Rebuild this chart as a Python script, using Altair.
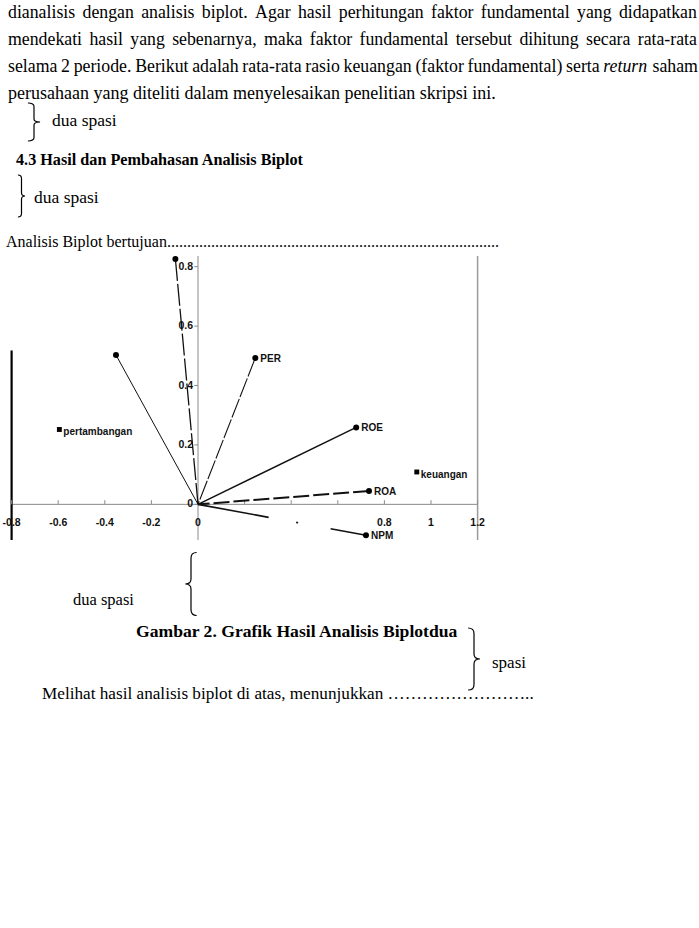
import altair as alt
import pandas as pd

# ---------------- data ----------------
var_labels = ["", "", "PER", "ROE", "ROA", "NPM"]
var_x = [-0.097, -0.352, 0.246, 0.679, 0.734, 0.721]
var_y = [0.826, 0.503, 0.493, 0.259, 0.045, -0.104]

obj_labels = ["pertambangan", "keuangan"]
obj_x = [-0.595, 0.939]
obj_y = [0.252, 0.109]

x_ticks = [-0.8, -0.6, -0.4, -0.2, 0, 0.2, 0.4, 0.6, 0.8, 1, 1.2]
x_tick_labels = ["-0.8", "-0.6", "-0.4", "-0.2", "0", "", "", "", "0.8", "1", "1.2"]
y_ticks = [0, 0.2, 0.4, 0.6, 0.8]
y_tick_labels = ["0", "0.2", "0.4", "0.6", "0.8"]

x_domain = [-0.8, 1.2]
y_domain = [-0.12, 0.836]
left_border_top = 0.518

body_lines = [
    "dianalisis dengan analisis biplot. Agar hasil perhitungan faktor fundamental yang didapatkan",
    "mendekati hasil yang sebenarnya, maka faktor fundamental tersebut dihitung secara rata-rata",
    "selama 2 periode. Berikut adalah rata-rata rasio keuangan (faktor fundamental) serta return saham",
]
last_body_line = "perusahaan yang diteliti dalam menyelesaikan penelitian skripsi ini."
italic_words = {"return"}
heading = "4.3  Hasil dan Pembahasan Analisis Biplot"
spacing_note = "dua spasi"
intro = "Analisis Biplot bertujuan"
caption = "Gambar 2. Grafik Hasil Analisis Biplotdua"
spacing_note2 = "spasi"
closing = "Melihat hasil analisis biplot di atas, menunjukkan "

# ---------------- styling ----------------
SERIF = "Liberation Serif"
SANS = "Liberation Sans"
FS = 17.8
LBL = 10
TICK_LBL = 10.5
INK = "#111111"

XS = alt.Scale(domain=x_domain, range=[11.6, 477.6], nice=False, zero=False)
YS = alt.Scale(domain=y_domain, range=[540, 256], nice=False, zero=False)

# Times-metric advance widths (per 1000 em) to lay out justified lines
W = {' ': 250, '.': 250, ',': 250, '-': 333, '(': 333, ')': 333,
     'a': 444, 'b': 500, 'c': 444, 'd': 500, 'e': 444, 'f': 333, 'g': 500, 'h': 500,
     'i': 278, 'j': 278, 'k': 500, 'l': 278, 'm': 778, 'n': 500, 'o': 500, 'p': 500,
     'q': 500, 'r': 333, 's': 389, 't': 278, 'u': 500, 'v': 500, 'w': 722, 'x': 500,
     'y': 500, 'z': 444, 'A': 722, 'B': 667, 'M': 889}
W_IT = dict(W, r=389, e=444, t=278, u=500, n=500)


def tw(s, size, italic=False):
    table = W_IT if italic else W
    return sum(table.get(c, 500) for c in s) / 1000.0 * size


one = pd.DataFrame({"k": [0]})
layers = []


def txt(s, x, y, size=FS, weight="normal", style="normal", font=SERIF, align="left"):
    layers.append(
        alt.Chart(one).mark_text(
            font=font, fontSize=size, fontWeight=weight, fontStyle=style,
            align=align, baseline="alphabetic", color="#000000"
        ).encode(x=alt.value(x), y=alt.value(y), text=alt.value(s))
    )


def brace(cx, cy, height, half_w, right=True, sw=1.2):
    """Thin curly brace drawn as a custom symbol path (unit box [-1, 1])."""
    s = 1 if right else -1
    a, t = -s * half_w, s * half_w
    path = (f"M{a},-1 Q0,-1 0,-0.82 L0,-0.16 Q0,0 {t},0 "
            f"Q0,0 0,0.16 L0,0.82 Q0,1 {a},1")
    layers.append(
        alt.Chart(one).mark_point(
            shape=path, filled=False, size=height * height, strokeWidth=sw,
            color="#000000", opacity=1
        ).encode(x=alt.value(cx), y=alt.value(cy))
    )


# justified paragraph lines
LEFT, RIGHT = 8, 697
baselines = [18, 45, 72]
for line, by in zip(body_lines, baselines):
    words = line.split(" ")
    total = sum(tw(w, FS, w in italic_words) for w in words)
    gap = (RIGHT - LEFT - total) / (len(words) - 1)
    xpos = LEFT
    for w in words:
        it = w in italic_words
        txt(w, xpos, by, style="italic" if it else "normal")
        xpos += tw(w, FS, it) + gap + (1.0 if it else 0.0)
txt(last_body_line, LEFT, 99, size=18)

# braces and notes
brace(34, 122, 38, 0.32, right=True)
txt(spacing_note, 52, 126, size=17.5)
txt(heading, 16, 165, size=16.2, weight="bold")
brace(21.5, 196, 42, 0.17, right=True)
txt(spacing_note, 34, 203, size=17.5)

intro_size = 16
n_dots = int(round((500 - 6 - tw(intro, intro_size)) / tw(".", intro_size)))
txt(intro + "." * n_dots, 6, 247, size=intro_size)

brace(191, 584, 63, 0.18, right=False)
txt(spacing_note, 73, 605, size=16.5)
txt(caption, 136, 637, size=17.6, weight="bold")
brace(474, 659, 62, 0.19, right=True)
txt(spacing_note2, 492, 668, size=17)
txt(closing + "\u2026" * 8 + "..", 42, 699, size=17.2)

# ---------------- biplot ----------------
var_df = pd.DataFrame({"label": var_labels, "x": var_x, "y": var_y})
obj_df = pd.DataFrame({"label": obj_labels, "x": obj_x, "y": obj_y})
xt_df = pd.DataFrame({"v": x_ticks, "lab": x_tick_labels})
yt_df = pd.DataFrame({"v": y_ticks, "lab": y_tick_labels})

# frame / axis lines
layers.append(alt.Chart(one).mark_rule(color="#8a8a8a", strokeWidth=1).encode(
    x=alt.X(datum=x_domain[0], scale=XS, axis=None), x2=alt.X2(datum=x_domain[1]),
    y=alt.Y(datum=0, scale=YS, axis=None)))
layers.append(alt.Chart(one).mark_rule(color="#8a8a8a", strokeWidth=1).encode(
    x=alt.X(datum=0, scale=XS, axis=None),
    y=alt.Y(datum=y_domain[0], scale=YS, axis=None), y2=alt.Y2(datum=y_domain[1])))
layers.append(alt.Chart(one).mark_rule(color="#9a9a9a", strokeWidth=1.5).encode(
    x=alt.X(datum=x_domain[1], scale=XS, axis=None),
    y=alt.Y(datum=y_domain[0], scale=YS, axis=None), y2=alt.Y2(datum=y_domain[1])))
layers.append(alt.Chart(one).mark_rule(color="#000000", strokeWidth=2.2).encode(
    x=alt.X(datum=x_domain[0], scale=XS, axis=None),
    y=alt.Y(datum=y_domain[0], scale=YS, axis=None), y2=alt.Y2(datum=left_border_top)))

# ticks
layers.append(alt.Chart(xt_df).mark_rule(color="#8a8a8a", strokeWidth=1).encode(
    x=alt.X("v:Q", scale=XS, axis=None),
    y=alt.Y(datum=0, scale=YS, axis=None), y2=alt.Y2(datum=0.014)))
layers.append(alt.Chart(yt_df).mark_rule(color="#8a8a8a", strokeWidth=1).encode(
    y=alt.Y("v:Q", scale=YS, axis=None),
    x=alt.X(datum=0, scale=XS, axis=None), x2=alt.X2(datum=-0.016)))

# tick labels
layers.append(alt.Chart(xt_df).mark_text(
    font=SANS, fontSize=TICK_LBL, fontWeight="bold", align="center", baseline="middle",
    dy=19, color=INK).encode(
    x=alt.X("v:Q", scale=XS, axis=None), y=alt.Y(datum=0, scale=YS, axis=None), text="lab:N"))
layers.append(alt.Chart(yt_df).mark_text(
    font=SANS, fontSize=TICK_LBL, fontWeight="bold", align="right", baseline="middle",
    dx=-5, color=INK).encode(
    x=alt.X(datum=0, scale=XS, axis=None), y=alt.Y("v:Q", scale=YS, axis=None), text="lab:N"))

# variable vectors (dash patterns start at the arrow tip)
vec_styles = [
    dict(strokeWidth=1.3, strokeDash=[22, 3]),
    dict(strokeWidth=1.0),
    dict(strokeWidth=1.1, strokeDash=[20, 2]),
    dict(strokeWidth=1.4),
    dict(strokeWidth=2.0, strokeDash=[16, 4]),
    dict(strokeWidth=1.6, strokeDash=[36, 33, 2, 28, 90]),
]
for i, st in enumerate(vec_styles):
    layers.append(alt.Chart(var_df.iloc[[i]]).mark_rule(color=INK, **st).encode(
        x=alt.X("x:Q", scale=XS, axis=None), y=alt.Y("y:Q", scale=YS, axis=None),
        x2=alt.X2(datum=0), y2=alt.Y2(datum=0)))

layers.append(alt.Chart(var_df).mark_point(
    shape="circle", filled=True, size=36, color="#000000", opacity=1).encode(
    x=alt.X("x:Q", scale=XS, axis=None), y=alt.Y("y:Q", scale=YS, axis=None)))
layers.append(alt.Chart(var_df).mark_text(
    font=SANS, fontSize=LBL, fontWeight="bold", align="left", baseline="middle",
    dx=5, dy=1, color=INK).encode(
    x=alt.X("x:Q", scale=XS, axis=None), y=alt.Y("y:Q", scale=YS, axis=None), text="label:N"))

layers.append(alt.Chart(obj_df).mark_point(
    shape="square", filled=True, size=24, color="#000000", opacity=1).encode(
    x=alt.X("x:Q", scale=XS, axis=None), y=alt.Y("y:Q", scale=YS, axis=None)))
layers.append(alt.Chart(obj_df).mark_text(
    font=SANS, fontSize=LBL, fontWeight="bold", align="left", baseline="middle",
    dx=4, dy=3, color=INK).encode(
    x=alt.X("x:Q", scale=XS, axis=None), y=alt.Y("y:Q", scale=YS, axis=None), text="label:N"))

chart = alt.layer(*layers).properties(
    width=699, height=928, padding=0,
    autosize=alt.AutoSizeParams(type="none"),
    background="white",
).configure_view(stroke=None)

chart.save("out.html", embed_options={"renderer": "svg", "actions": False})
